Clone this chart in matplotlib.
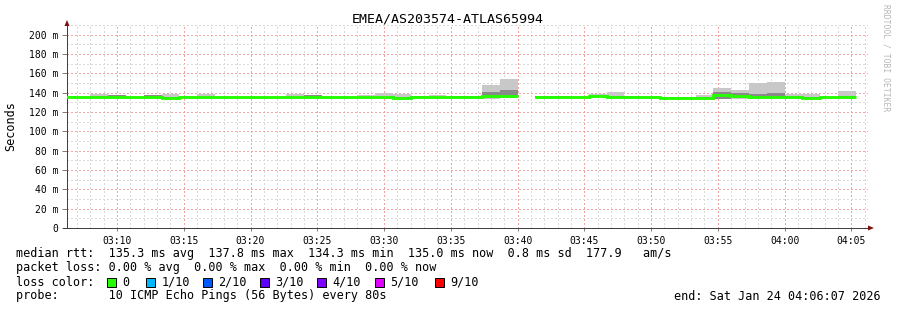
import numpy as np
import matplotlib
matplotlib.use("Agg")
import matplotlib.pyplot as plt
from matplotlib.patches import Rectangle, Polygon
from matplotlib.lines import Line2D

# ---------------- data ----------------
title = "EMEA/AS203574-ATLAS65994"
tick_minutes = [10, 15, 20, 25, 30, 35, 40, 45, 50, 55, 60, 65]   # minutes after 03:00
tick_labels = ["03:10", "03:15", "03:20", "03:25", "03:30", "03:35",
               "03:40", "03:45", "03:50", "03:55", "04:00", "04:05"]
y_values = [0, 20, 40, 60, 80, 100, 120, 140, 160, 180, 200]
y_labels = ["0", "20 m", "40 m", "60 m", "80 m", "100 m", "120 m",
            "140 m", "160 m", "180 m", "200 m"]

first_step_min = 5 + 20 / 60.0       # 03:05:20
step_len_min = 80 / 60.0             # 80 s steps

nan = np.nan
median_ms = [135.0, 135.0, 135.0, 135.0, 135.0, 135.0, 134.3, 135.0, 135.0, 135.0,
             135.0, 135.0, 135.0, 135.0, 135.0, 135.0, 135.0, 135.0, 135.0, 134.4,
             135.6, 135.1, 135.6, 135.5, 136.3, 136.3, nan, 135.5, 135.4, 135.0,
             136.3, 136.0, 135.7, 135.2, 134.6, 134.6, 134.9, 137.8, 136.6, 135.6,
             136.0, 135.3, 134.9, 135.0, 135.5]
smoke_max = [136.0, 136.2, 138.5, 137.5, 136.0, 137.5, 138.5, 136.0, 138.2, 136.0,
             136.0, 136.0, 136.0, 139.0, 137.6, 136.0, 136.0, 137.2, 140.0, 139.0,
             136.5, 137.2, 136.5, 136.5, 148.0, 154.5, nan, 136.5, 136.5, 136.5,
             139.0, 140.5, 137.0, 136.5, 135.5, 135.5, 137.8, 145.3, 142.5, 150.0,
             151.5, 138.8, 138.8, 136.0, 142.0]
smoke_min = [134.2, 134.2, 134.2, 134.2, 134.2, 134.2, 133.6, 134.2, 134.2, 134.2,
             134.2, 133.5, 134.2, 134.2, 134.2, 134.2, 134.2, 134.2, 134.2, 133.6,
             134.8, 134.3, 134.8, 134.7, 133.7, 134.0, nan, 133.8, 134.6, 134.0,
             135.5, 135.2, 134.9, 134.4, 133.8, 133.8, 134.1, 133.0, 133.5, 134.0,
             134.5, 134.5, 133.8, 134.2, 134.7]
smoke_inner_hi = [135.8, 135.8, 136.5, 137.5, 135.8, 137.5, 135.2, 135.8, 135.8, 135.8,
                  135.8, 135.8, 135.8, 135.8, 137.6, 135.8, 135.8, 135.8, 135.8, 135.2,
                  136.4, 135.9, 136.4, 136.3, 141.0, 143.0, nan, 136.3, 136.2, 135.8,
                  137.0, 136.8, 136.5, 136.0, 135.4, 135.4, 135.7, 141.0, 140.0, 138.5,
                  139.5, 136.1, 135.7, 135.8, 136.3]
smoke_inner_lo = [134.5, 134.5, 134.5, 134.5, 134.5, 134.5, 133.8, 134.5, 134.5, 134.5,
                  134.5, 134.5, 134.5, 134.5, 134.5, 134.5, 134.5, 134.5, 134.5, 133.9,
                  135.1, 134.6, 135.1, 135.0, 134.2, 134.5, nan, 134.5, 134.9, 134.5,
                  135.8, 135.5, 135.2, 134.7, 134.1, 134.1, 134.4, 133.5, 134.0, 134.6,
                  135.0, 134.8, 134.2, 134.5, 135.0]

loss_labels = ["0", "1/10", "2/10", "3/10", "4/10", "5/10", "9/10"]
loss_colors = ["#26ff00", "#00b8ff", "#0059ff", "#5e00ff", "#7e00ff", "#dd00ff", "#ff0000"]

line_median = "median rtt:  135.3 ms avg  137.8 ms max  134.3 ms min  135.0 ms now  0.8 ms sd  177.9   am/s"
line_loss = "packet loss: 0.00 % avg  0.00 % max  0.00 % min  0.00 % now"
line_color = "loss color:"
line_probe = "probe:       10 ICMP Echo Pings (56 Bytes) every 80s"
line_end = "end: Sat Jan 24 04:06:07 2026"
credit = "RRDTOOL / TOBI OETIKER"

# ---------------- layout ----------------
W, H = 897, 310
plt.rcParams["font.family"] = ["DejaVu Sans Mono"]


def fx(x):
    return x / W


def fy(y):
    return 1 - y / H


fig = plt.figure(figsize=(W / 100, H / 100), dpi=100)
fig.patch.set_facecolor("white")
ax = fig.add_axes([fx(67), fy(228), 801 / W, 203 / H])
ax.set_xlim(6.25, 66.25)
ax.set_ylim(0, 210)

n = len(median_ms)
x_start = first_step_min + step_len_min * np.arange(n)
med = np.array(median_ms, float)
smin = np.array(smoke_min, float)
smax = np.array(smoke_max, float)
ilo = np.array(smoke_inner_lo, float)
ihi = np.array(smoke_inner_hi, float)

ax.bar(x_start, smax - smin, bottom=smin, width=step_len_min, align="edge",
       color="#c8c8c8", linewidth=0, zorder=2)
ax.bar(x_start, ihi - ilo, bottom=ilo, width=step_len_min, align="edge",
       color="#8a8a8a", linewidth=0, zorder=3)
xs = np.append(x_start, x_start[-1] + step_len_min)
ys = np.append(med, med[-1])
ax.step(xs, ys, where="post", color=loss_colors[0], lw=2.1, zorder=4,
        solid_capstyle="butt", solid_joinstyle="miter")

ax.set_xticks(tick_minutes, tick_labels)
ax.set_xticks(np.arange(7, 67, 1), minor=True)
ax.set_yticks(y_values, y_labels)
ax.set_yticks(np.arange(10, 211, 20), minor=True)
ax.set_axisbelow(True)
ax.grid(which="major", color="#f2a4a4", lw=0.8, ls=(0, (1, 2)), antialiased=False)
ax.grid(which="minor", color="#d9d9d9", lw=0.8, ls=(0, (1, 2)), antialiased=False)
ax.tick_params(which="minor", length=0)
ax.tick_params(axis="y", which="major", length=3.5, width=0.72, color="#808080",
               pad=2.5, labelsize=7)
ax.tick_params(axis="x", which="major", length=2, width=0.72, color="#808080",
               pad=3.5, labelsize=7)
for s in ["top", "right"]:
    ax.spines[s].set_visible(False)
for s in ["left", "bottom"]:
    ax.spines[s].set_color("#404040")
    ax.spines[s].set_linewidth(0.72)

# axis arrows
arrow_col = "#801010"
fig.add_artist(Polygon([(fx(64.5), fy(26)), (fx(69.5), fy(26)), (fx(67), fy(20))],
                       closed=True, transform=fig.transFigure, color=arrow_col, lw=0))
fig.add_artist(Polygon([(fx(868), fy(225.5)), (fx(868), fy(230.5)), (fx(874), fy(228))],
                       closed=True, transform=fig.transFigure, color=arrow_col, lw=0))
fig.add_artist(Line2D([fx(63), fx(67)], [fy(228), fy(228)], transform=fig.transFigure,
                      color="#404040", lw=0.72))

# texts
fig.text(fx(448), fy(19), title, ha="center", va="center", fontsize=9.6)
fig.text(fx(11), fy(126), "Seconds", ha="center", va="center", rotation=90, fontsize=8.5)
fig.text(fx(886), fy(4), credit, ha="center", va="top", rotation=-90, fontsize=5.8,
         color="#b8b8b8")

fs = 8.5
fig.text(fx(16), fy(254), line_median, ha="left", va="center", fontsize=fs)
fig.text(fx(16), fy(268), line_loss, ha="left", va="center", fontsize=fs)
fig.text(fx(16), fy(282), line_color, ha="left", va="center", fontsize=fs)
fig.text(fx(16), fy(296), line_probe, ha="left", va="center", fontsize=fs)
fig.text(fx(881), fy(296), line_end, ha="right", va="center", fontsize=fs)

box_x = [107, 146, 203, 260, 317, 375, 435]
for bx, lab, col in zip(box_x, loss_labels, loss_colors):
    fig.add_artist(Rectangle((fx(bx), fy(286.5)), 8.5 / W, 8.5 / H,
                             transform=fig.transFigure, facecolor=col,
                             edgecolor="black", lw=0.7))
    fig.text(fx(bx + 15.5), fy(282), lab, ha="left", va="center", fontsize=fs)

fig.savefig("out.png", dpi=100, facecolor="white")
